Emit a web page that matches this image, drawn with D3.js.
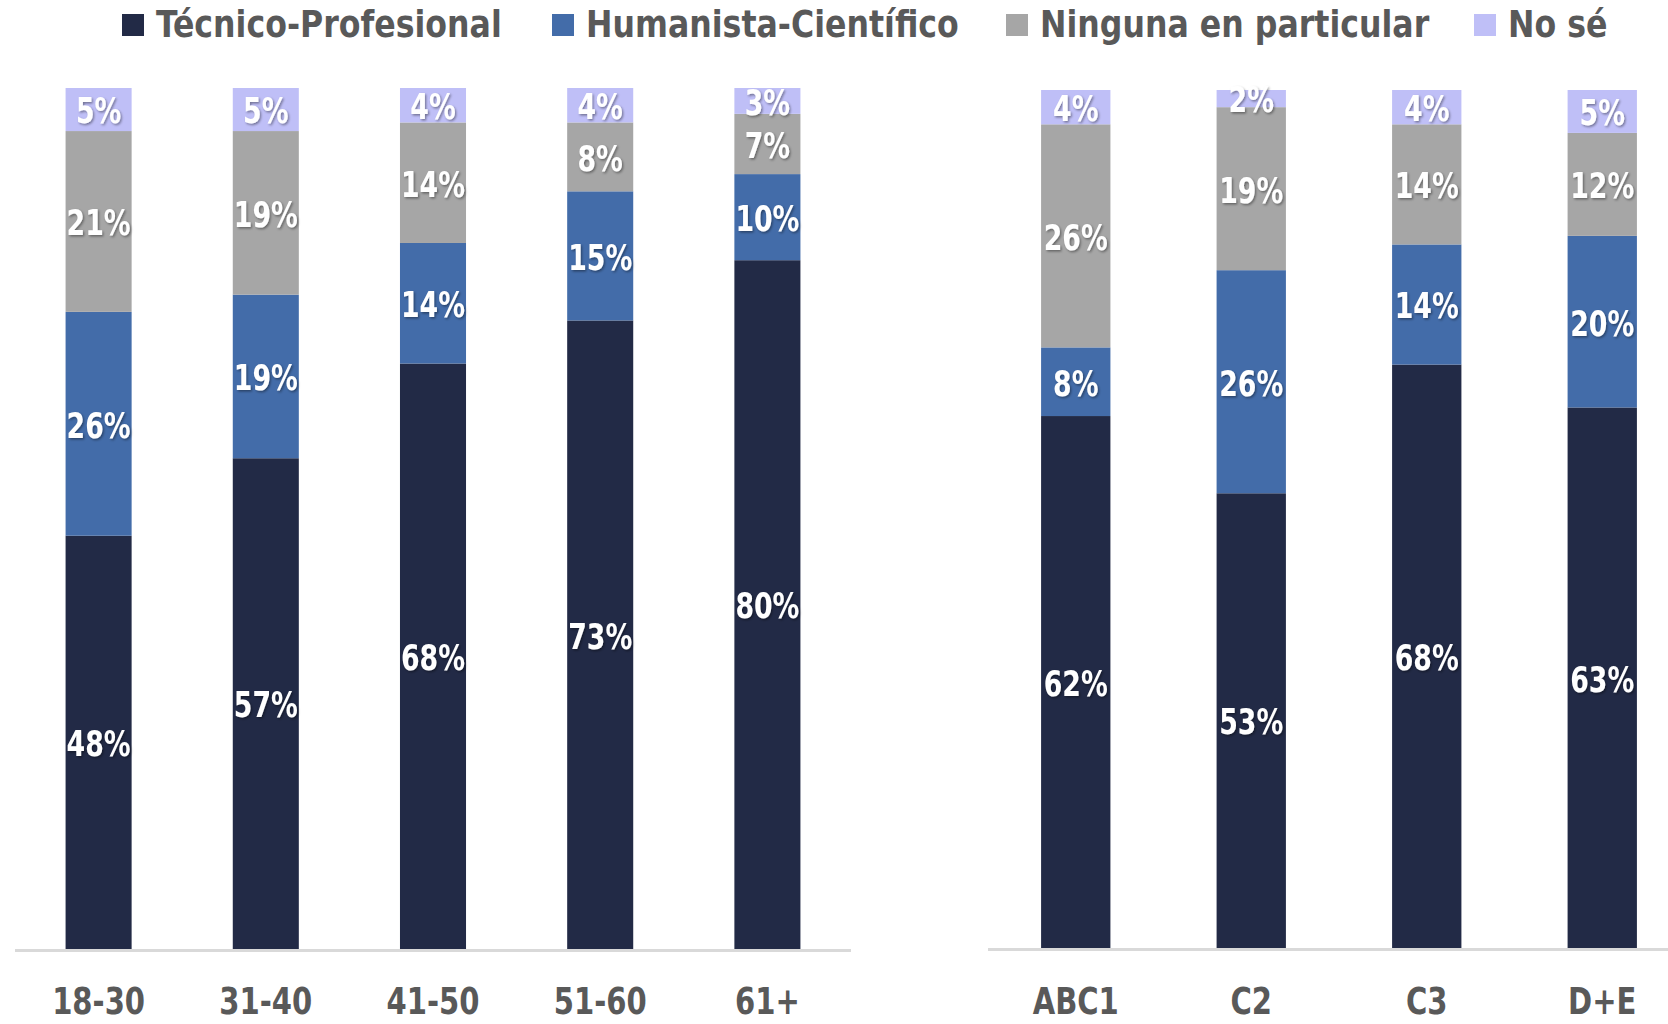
<!DOCTYPE html>
<html>
<head>
<meta charset="utf-8">
<script src="https://cdnjs.cloudflare.com/ajax/libs/d3/7.8.5/d3.min.js"></script>
<style>
  body { margin: 0; background: #fff; }
  svg { display: block; }
</style>
</head>
<body>
<script>
var series = ["Técnico-Profesional", "Humanista-Científico", "Ninguna en particular", "No sé"];
var colors = ["#222a46", "#436ca9", "#a6a6a6", "#bfbff7"];

var ageGroups = ["18-30", "31-40", "41-50", "51-60", "61+"];
var ageTecnico = [48, 57, 68, 73, 80];
var ageHumanista = [26, 19, 14, 15, 10];
var ageNinguna = [21, 19, 14, 8, 7];
var ageNoSe = [5, 5, 4, 4, 3];

var gseGroups = ["ABC1", "C2", "C3", "D+E"];
var gseTecnico = [62, 53, 68, 63];
var gseHumanista = [8, 26, 14, 20];
var gseNinguna = [26, 19, 14, 12];
var gseNoSe = [4, 2, 4, 5];

var width = 1668, height = 1024;
var fontFam = "'DejaVu Sans Condensed', 'DejaVu Sans', sans-serif";

var svg = d3.select("body").append("svg")
  .attr("width", width)
  .attr("height", height);

var defs = svg.append("defs");
var shadow = defs.append("filter").attr("id", "shadow")
  .attr("x", "-20%").attr("y", "-20%").attr("width", "140%").attr("height", "140%");
shadow.append("feDropShadow")
  .attr("dx", 1.5).attr("dy", 1.5).attr("stdDeviation", 1)
  .attr("flood-color", "#000").attr("flood-opacity", 0.4);

// legend
var legendX = [122, 552, 1006, 1474];
var legend = svg.append("g").selectAll("g")
  .data(series)
  .enter().append("g")
  .attr("transform", function (d, i) { return "translate(" + legendX[i] + ",0)"; });
legend.append("rect")
  .attr("x", 0).attr("y", 14)
  .attr("width", 22).attr("height", 22)
  .attr("fill", function (d, i) { return colors[i]; });
legend.append("text")
  .attr("transform", "translate(34,37) scale(0.95,1)")
  .attr("fill", "#595959")
  .style("font-family", fontFam)
  .style("font-weight", "bold")
  .style("font-size", "37px")
  .text(function (d) { return d; });

function panel(groups, cols, x0, x1, yBase, yTop, axisEnd) {
  var rows = groups.map(function (g, i) {
    var r = { group: g };
    series.forEach(function (s, j) { r[s] = cols[j][i]; });
    return r;
  });
  var stacked = d3.stack().keys(series)(rows);

  var x = d3.scaleBand().domain(groups).range([x0, x1])
    .paddingInner(0.605).paddingOuter(0.3025);
  var y = d3.scaleLinear().domain([0, 100]).range([yBase, yTop]);

  var g = svg.append("g");

  var layer = g.selectAll(".layer")
    .data(stacked)
    .enter().append("g")
    .attr("fill", function (d, i) { return colors[i]; });

  layer.selectAll("rect")
    .data(function (d) { return d; })
    .enter().append("rect")
    .attr("x", function (d) { return x(d.data.group); })
    .attr("y", function (d) { return y(d[1]); })
    .attr("width", x.bandwidth())
    .attr("height", function (d) { return y(d[0]) - y(d[1]); });

  // axis line
  g.append("line")
    .attr("x1", x0).attr("x2", axisEnd)
    .attr("y1", yBase + 1.5).attr("y2", yBase + 1.5)
    .attr("stroke", "#d9d9d9").attr("stroke-width", 3);

  // value labels
  stacked.forEach(function (s) {
    g.selectAll(null)
      .data(s)
      .enter().append("text")
      .attr("transform", function (d) {
        var cx = x(d.data.group) + x.bandwidth() / 2;
        var cy = (y(d[0]) + y(d[1])) / 2 + 2;
        return "translate(" + cx + "," + cy + ") scale(0.85,1)";
      })
      .attr("text-anchor", "middle")
      .attr("dominant-baseline", "central")
      .attr("fill", "#fff")
      .attr("filter", "url(#shadow)")
      .style("font-family", fontFam)
      .style("font-weight", "bold")
      .style("font-size", "35px")
      .text(function (d) { return (d[1] - d[0]) + "%"; });
  });

  // category labels
  g.selectAll(".cat")
    .data(groups)
    .enter().append("text")
    .attr("transform", function (d) {
      return "translate(" + (x(d) + x.bandwidth() / 2) + ",1014) scale(0.85,1)";
    })
    .attr("text-anchor", "middle")
    .attr("fill", "#595959")
    .style("font-family", fontFam)
    .style("font-weight", "bold")
    .style("font-size", "38px")
    .text(function (d) { return d; });
}

panel(ageGroups, [ageTecnico, ageHumanista, ageNinguna, ageNoSe], 15, 851, 949, 88, 851);
panel(gseGroups, [gseTecnico, gseHumanista, gseNinguna, gseNoSe], 988, 1690, 948, 90, 1668);
</script>
</body>
</html>
